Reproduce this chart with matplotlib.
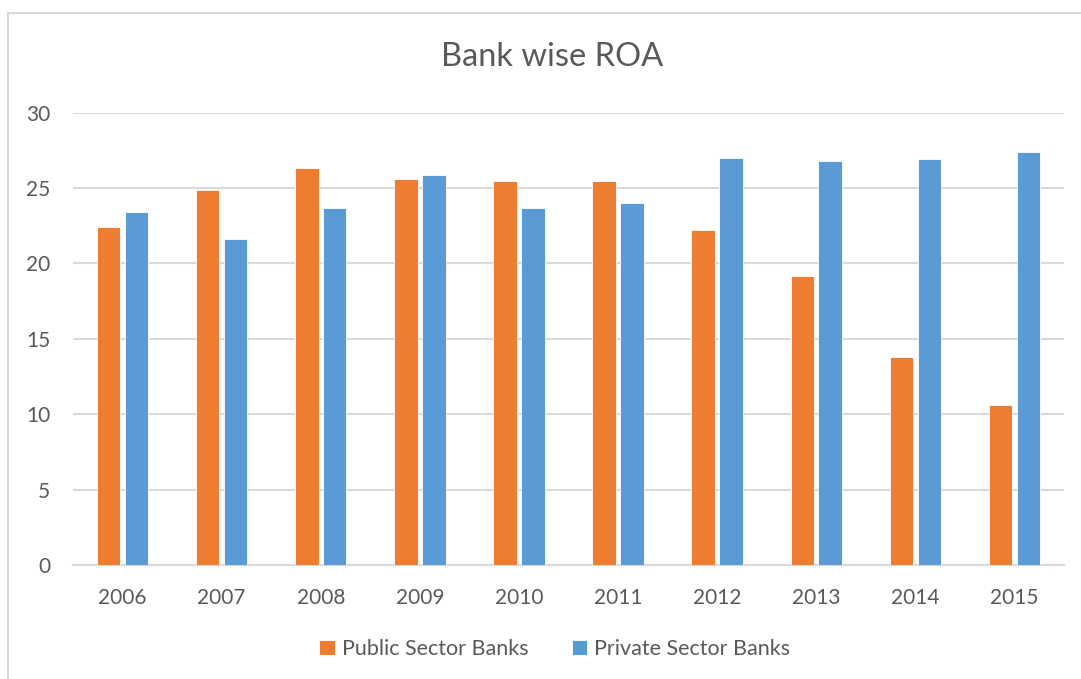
import matplotlib
matplotlib.use("Agg")
import matplotlib.pyplot as plt
import numpy as np
from matplotlib.patches import Rectangle

years = ["2006", "2007", "2008", "2009", "2010", "2011", "2012", "2013", "2014", "2015"]
public_sector = [22.4, 24.9, 26.3, 25.6, 25.5, 25.5, 22.2, 19.2, 13.8, 10.6]
private_sector = [23.4, 21.6, 23.7, 25.9, 23.7, 24.0, 27.0, 26.8, 26.9, 27.4]
y_ticks = [0, 5, 10, 15, 20, 25, 30]

ORANGE = "#ED7D31"
BLUE = "#5B9BD5"
TEXT = "#595959"
GRID = "#D9D9D9"

plt.rcParams["font.family"] = ["Lato", "DejaVu Sans"]

fig = plt.figure(figsize=(10.81, 6.79), dpi=100)
fig.patch.set_facecolor("white")

# chart frame
fig.patches.append(Rectangle((8 / 1081, -0.05), 1.2, 1 - 13 / 679 + 0.05,
                             transform=fig.transFigure, fill=False,
                             edgecolor=GRID, linewidth=1.5))

ax = fig.add_axes([73 / 1081, 1 - 565 / 679, (1064 - 73) / 1081, (565 - 112.7) / 679])

x = np.arange(len(years))
w = 0.237
off = 0.141
ax.bar(x - off, public_sector, w, color=ORANGE, edgecolor="white", linewidth=0.6,
       label="Public Sector Banks", zorder=3)
ax.bar(x + off, private_sector, w, color=BLUE, edgecolor="white", linewidth=0.6,
       label="Private Sector Banks", zorder=3)

ax.set_xlim(-0.5, len(years) - 0.5)
ax.set_ylim(0, 30)
ax.set_yticks(y_ticks)
ax.set_xticks(x)
ax.set_xticklabels(years)

ax.grid(axis="y", color=GRID, linewidth=1.5, zorder=0)
for s in ["top", "right", "left"]:
    ax.spines[s].set_visible(False)
ax.spines["bottom"].set_color(GRID)
ax.spines["bottom"].set_linewidth(1.5)
ax.tick_params(axis="both", length=0, colors=TEXT, labelsize=15)
ax.tick_params(axis="y", pad=16.5)
ax.tick_params(axis="x", pad=16.5)

fig.text(552 / 1081, 1 - 57 / 679, "Bank wise ROA", ha="center", va="center",
         fontsize=23.5, color=TEXT)

leg = fig.legend(loc="center", bbox_to_anchor=(555 / 1081, 1 - 649 / 679), ncol=2,
                 frameon=False, fontsize=15.5, handlelength=0.7, handleheight=0.7,
                 handletextpad=0.35, columnspacing=2.0)
for t in leg.get_texts():
    t.set_color(TEXT)

fig.savefig("out.png", dpi=100, facecolor="white")
